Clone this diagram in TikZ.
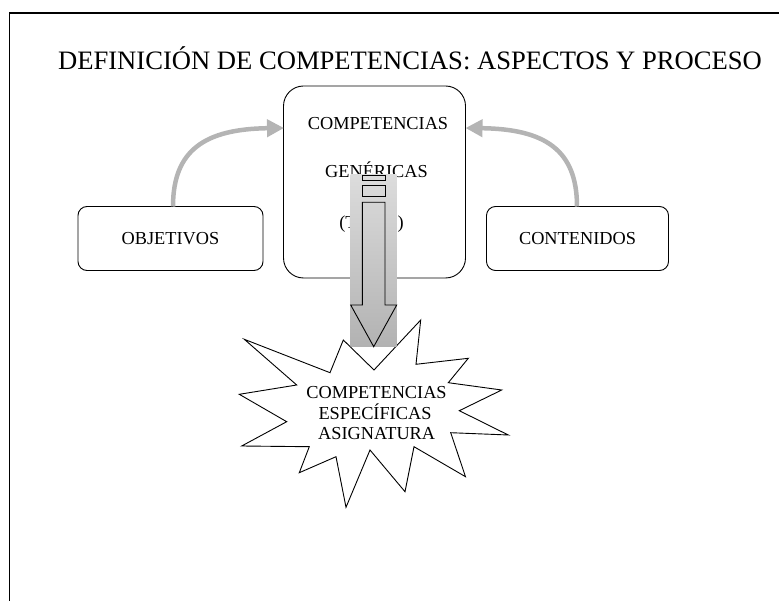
\documentclass[tikz,border=0pt]{standalone}
\usepackage{fontspec}
\setmainfont{Liberation Serif}
\usetikzlibrary{arrows.meta}
\definecolor{arrowgray}{RGB}{180,180,180}
\definecolor{gradtop}{RGB}{220,220,220}
\definecolor{gradbot}{RGB}{178,178,178}
\begin{document}
\begin{tikzpicture}[x=1pt,y=-1pt,
  txt/.style={font=\fontsize{18.3}{20}\selectfont, inner sep=0pt, anchor=base},
  smallbox/.style={draw=black, line width=0.9pt, rounded corners=9pt, minimum height=64pt, inner sep=0pt, font=\fontsize{18.3}{20}\selectfont},
  bigbox/.style={draw=black, line width=0.9pt, rounded corners=20pt, minimum width=182pt, minimum height=192pt, inner sep=0pt},
  grayarrow/.style={draw=arrowgray, line width=4.5pt, -{Triangle[length=17pt,width=17pt]}},
  outline/.style={draw=black, line width=0.9pt}
]
\useasboundingbox (0,0) rectangle (779,601);
% frame
\draw[line width=1.3pt] (9.5,601) -- (9.5,13) -- (779,13);
% title
\node[font=\fontsize{26.6}{30}\selectfont, inner sep=0pt, anchor=base] (title) at (410,70) {DEFINICIÓN DE COMPETENCIAS: ASPECTOS Y PROCESO};
% central box
\node[bigbox] (gen) at (374.5,182) {};
\node[txt] (g1) at (378,130) {COMPETENCIAS};
\node[txt] (g2) at (376.5,178) {GENÉRICAS};
\node[txt] (g3) at (371.5,229) {(Tuning)};
% side boxes
\node[smallbox, minimum width=185pt] (obj) at (170.5,238.5) {OBJETIVOS};
\node[smallbox, minimum width=182pt] (cont) at (577.5,238.5) {CONTENIDOS};
% curved gray arrows
\coordinate (objT) at (173,206.5);
\coordinate (contT) at (577,206.5);
\coordinate (genL) at (284,128);
\coordinate (genR) at (465.5,128);
\draw[grayarrow] (objT) .. controls (173,150) and (205,129) .. (genL);
\draw[grayarrow] (contT) .. controls (577,150) and (545,129) .. (genR);
% star
\draw[outline, fill=white] (420.7,320) -- (416,364.3) -- (468.3,358.3) -- (448.3,382.7) -- (501.7,390)
  -- (459.3,410.7) -- (508.3,435) -- (450.7,432.7) -- (465.5,476.7) -- (414,446.7)
  -- (405,491.7) -- (370,450) -- (346,507.3) -- (336,456.7) -- (299.3,472.7)
  -- (309.3,446.7) -- (241.7,446) -- (286.7,421.7) -- (239.3,394.3) -- (296.7,385)
  -- (244.3,339.3) -- (330,372.7) -- (343.3,340) -- (374,370) -- cycle;
\node[txt] (s1) at (376.5,399) {COMPETENCIAS};
\node[txt] (s2) at (375,419) {ESPECÍFICAS};
\node[txt] (s3) at (376.7,439) {ASIGNATURA};
% striped down arrow
\shade[top color=gradtop, bottom color=gradbot] (350.7,175) rectangle (396.7,347);
\draw[outline] (362.3,175.7) rectangle (385,180.7);
\draw[outline] (362.3,185.7) rectangle (385,196.7);
\draw[outline, line join=miter] (362.3,202.3) -- (362.3,305) -- (350.7,305) -- (373.7,346.7)
  -- (396.7,305) -- (385,305) -- (385,202.3) -- cycle;
\end{tikzpicture}
\end{document}
